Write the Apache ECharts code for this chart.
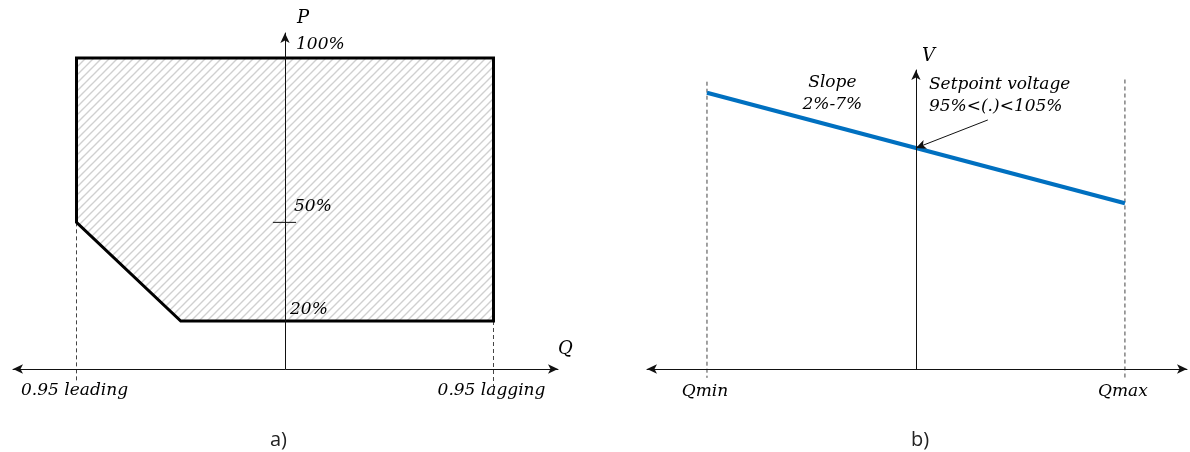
<!DOCTYPE html>
<html>
<head>
<meta charset="utf-8">
<script src="https://cdn.jsdelivr.net/npm/echarts@6/dist/echarts.min.js"></script>
<style>
html,body{margin:0;padding:0;background:#fff;}
#chart{width:1190px;height:452px;}
</style>
</head>
<body>
<div id="chart"></div>
<script>
// ---------- Panel a) P-Q capability ----------
const capQ = [-1, 1, 1, -0.5, -1, -1];
const capP = [100, 100, 20, 20, 50, 100];
const pTickValues = [100, 50, 20];
const pTickLabels = ['100%', '50%', '20%'];
const pfLimitsQ = [-1, 1];
const pfLimitsLabels = ['0.95 leading', '0.95 lagging'];
const pfDashTopP = [50, 20];
const pfDashBottomP = [1.4, 0];
const midTickQ = [-0.058, 0.053];
// ---------- Panel b) V-Q droop ----------
const droopQ = [-1, 1];
const droopV = [1.25, 0.75];
const qLimitsQ = [-1, 1];
const qLimitsLabels = ['Qmin', 'Qmax'];
const qDashTopV = [1.30, 1.31];
const qDashBottomV = [-0.04, -0.04];
const setpoint = [0, 1.0];
const setpointArrowFrom = [0.344, 1.127];
const slopeAnchorQ = -0.4;
const slopeText = 'Slope\n2%-7%';
const setpointText = 'Setpoint voltage\n95%<(.)<105%';

const serif = {fontFamily: 'DejaVu Serif', fontStyle: 'italic', fontSize: 17, color: '#000'};

// hatch pattern
const pc = document.createElement('canvas');
pc.width = 8; pc.height = 8;
const g = pc.getContext('2d');
g.strokeStyle = '#d0d0d0';
g.lineWidth = 1.4;
g.beginPath();
g.moveTo(-1, 9); g.lineTo(9, -1);
g.moveTo(-1, 1); g.lineTo(1, -1);
g.moveTo(7, 9); g.lineTo(9, 7);
g.stroke();
const hatch = {image: pc, repeat: 'repeat'};

function hiddenAxisParts() {
  return {axisTick: {show: false}, axisLabel: {show: false}, splitLine: {show: false}};
}
const axisLineStyle = {color: '#111', width: 1};

function labelSeries(xi, points, texts, off, align) {
  return {
    type: 'custom', xAxisIndex: xi, yAxisIndex: xi, clip: false, silent: true, z: 10,
    data: points,
    renderItem: function (params, api) {
      const i = params.dataIndex;
      const c = api.coord(points[i]);
      return {
        type: 'text', x: c[0] + off[i][0], y: c[1] + off[i][1],
        style: {
          text: texts[i], fill: '#000', align: align, verticalAlign: 'middle', lineHeight: 22,
          fontFamily: serif.fontFamily, fontStyle: 'italic', fontSize: serif.fontSize
        }
      };
    }
  };
}

const capStyle = {fontFamily: 'Open Sans', fontWeight: 'normal', fontSize: 20, color: '#222'};
const chart = echarts.init(document.getElementById('chart'), null, {renderer: 'canvas'});
const option = {
  animation: false,
  backgroundColor: '#fff',
  title: [
    {text: 'a)', left: 270, top: 430, padding: 0, textStyle: capStyle},
    {text: 'b)', left: 911, top: 430, padding: 0, textStyle: capStyle}
  ],
  grid: [
    {left: 13, right: 632, top: 33, bottom: 83},
    {left: 647, right: 3, top: 70, bottom: 83}
  ],
  xAxis: [
    Object.assign({
      gridIndex: 0, type: 'value', min: -1.3046, max: 1.3094, z: 5,
      axisLine: {onZero: false, symbol: ['arrow', 'arrow'], symbolSize: [7, 10], lineStyle: axisLineStyle},
      name: 'Q', nameLocation: 'end', nameGap: 0,
      nameTextStyle: Object.assign({}, serif, {fontSize: 18, verticalAlign: 'bottom', padding: [0, 0, 11, 0]})
    }, hiddenAxisParts()),
    Object.assign({
      gridIndex: 1, type: 'value', min: -1.287, max: 1.297, z: 5,
      axisLine: {onZero: false, symbol: ['arrow', 'arrow'], symbolSize: [7, 10], lineStyle: axisLineStyle}
    }, hiddenAxisParts())
  ],
  yAxis: [
    Object.assign({
      gridIndex: 0, type: 'value', min: 5.4, max: 107.6, z: 5,
      axisLine: {onZero: true, symbol: ['none', 'arrow'], symbolSize: [7, 10], lineStyle: axisLineStyle},
      name: 'P', nameLocation: 'end', nameGap: 6,
      nameTextStyle: Object.assign({}, serif, {fontSize: 18, align: 'left', padding: [0, 0, 0, 12]})
    }, hiddenAxisParts()),
    Object.assign({
      gridIndex: 1, type: 'value', min: 0, max: 1.353, z: 5,
      axisLine: {onZero: true, symbol: ['none', 'arrow'], symbolSize: [7, 10], lineStyle: axisLineStyle},
      name: 'V', nameLocation: 'end', nameGap: 5,
      nameTextStyle: Object.assign({}, serif, {fontSize: 18, align: 'left', padding: [0, 0, 0, 6]})
    }, hiddenAxisParts())
  ],
  series: [
    {
      type: 'custom', xAxisIndex: 0, yAxisIndex: 0, z: 2, silent: true,
      data: capQ.map((q, i) => [q, capP[i]]),
      renderItem: function (params, api) {
        if (params.dataIndex !== 0) return null;
        const pts = capQ.map((q, i) => api.coord([q, capP[i]]));
        return {type: 'polygon', shape: {points: pts},
          style: {fill: hatch, stroke: '#000', lineWidth: 3, lineJoin: 'miter'}};
      }
    },
    {
      type: 'line', xAxisIndex: 0, yAxisIndex: 0, symbol: 'none', z: 6, silent: true,
      data: midTickQ.map(q => [q, pTickValues[1]]),
      lineStyle: {color: '#111', width: 1}
    },
    ...pfLimitsQ.map((q, i) => ({
      type: 'line', xAxisIndex: 0, yAxisIndex: 0, symbol: 'none', clip: false, z: 1, silent: true,
      data: [[q, pfDashTopP[i]], [q, pfDashBottomP[i]]],
      lineStyle: {color: '#444', width: 1, type: [4, 3]}
    })),
    labelSeries(0, pTickValues.map(p => [0, p]), pTickLabels, [[11, -13], [9, -16], [5, -11]], 'left'),
    labelSeries(0, pfLimitsQ.map(q => [q, 5.4]), pfLimitsLabels, [[-2, 22], [-2, 22]], 'center'),

    {
      type: 'line', xAxisIndex: 1, yAxisIndex: 1, symbol: 'none', z: 4, silent: true,
      data: droopQ.map((q, i) => [q, droopV[i]]),
      lineStyle: {color: '#0070C0', width: 4},
      markLine: {
        silent: true, animation: false, symbolSize: [7, 10],
        lineStyle: {color: '#111', width: 1, type: 'solid'},
        label: {show: false},
        data: [[{coord: setpointArrowFrom, symbol: 'none'}, {coord: setpoint, symbol: 'arrow'}]]
      }
    },
    ...qLimitsQ.map((q, i) => ({
      type: 'line', xAxisIndex: 1, yAxisIndex: 1, symbol: 'none', clip: false, z: 1, silent: true,
      data: [[q, qDashTopV[i]], [q, qDashBottomV[i]]],
      lineStyle: {color: '#444', width: 1, type: [4, 3]}
    })),
    labelSeries(1, qLimitsQ.map(q => [q, 0]), qLimitsLabels, [[-2, 23], [-2, 23]], 'center'),
    labelSeries(1, [[slopeAnchorQ, droopV[0] + (slopeAnchorQ - droopQ[0]) * (droopV[1] - droopV[0]) / (droopQ[1] - droopQ[0])]], [slopeText], [[0, -32]], 'center'),
    labelSeries(1, [setpoint], [setpointText], [[13, -52]], 'left')
  ]
};
chart.setOption(option);
</script>
</body>
</html>
